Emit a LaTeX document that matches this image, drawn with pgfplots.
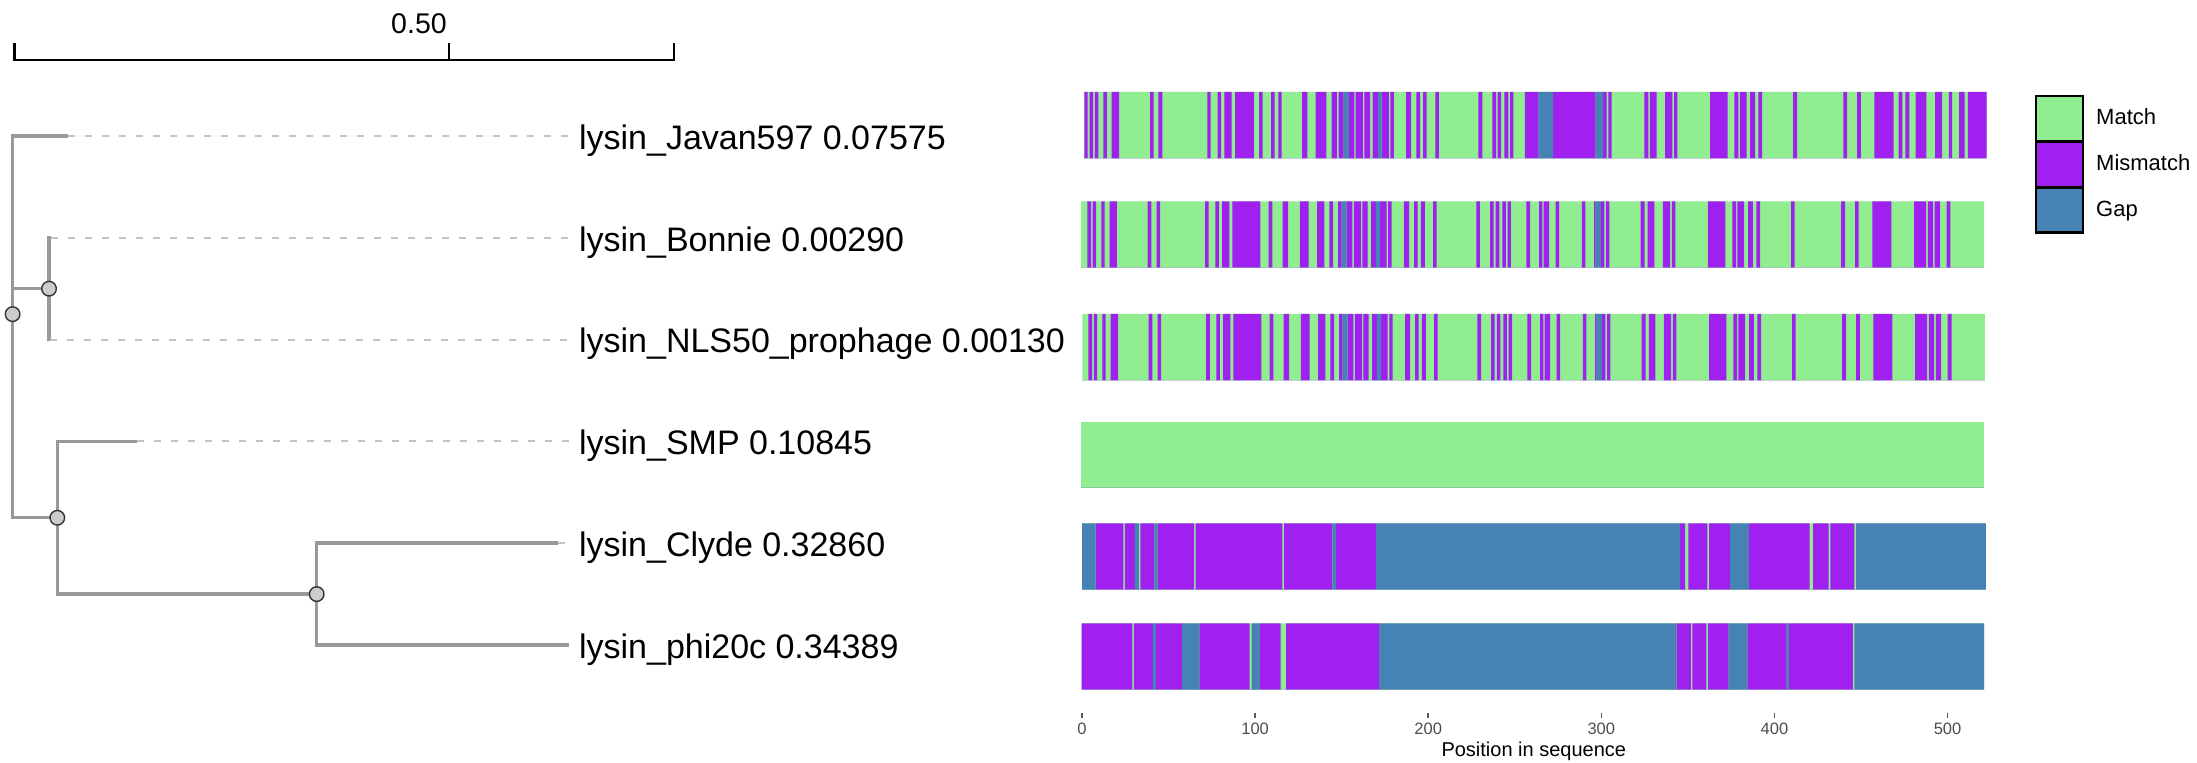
\documentclass[border=0pt]{standalone}
\usepackage{fontspec}
\setmainfont{Liberation Sans}
\usepackage{pgfplots}
\usepackage{pgfplotstable}
\pgfplotsset{compat=1.18}
\definecolor{matchc}{RGB}{144,238,144}
\definecolor{misc}{RGB}{160,32,240}
\definecolor{gapc}{RGB}{70,130,180}
\definecolor{branchc}{RGB}{153,153,153}
\definecolor{dashc}{RGB}{195,195,195}
\definecolor{nodec}{RGB}{204,204,204}

% t: 0 = match, 1 = mismatch, 2 = gap ; each row starts an interval, last row ends the bar
\pgfplotstableread{
x t
1.3 1
3.3 0
4.4 1
6.4 0
7.5 1
9.4 0
12.3 1
14.4 0
17.1 1
21.4 0
39.3 1
41.4 0
44.1 1
46.4 0
72.4 1
74.3 0
78.4 1
80.3 0
82.2 1
86.5 0
88.4 1
99.4 0
102.3 1
104.4 0
109.2 1
111.3 0
113.4 1
115.3 0
127.1 1
130.2 0
135.0 1
141.2 0
144.2 1
147.3 0
148.3 1
151.2 2
154.2 1
157.3 0
158.1 1
162.3 0
163.1 1
166.4 0
167.9 1
171.0 2
173.1 1
177.2 0
178.1 1
180.2 0
187.2 1
190.1 0
193.1 1
195.3 0
197.0 1
199.1 0
204.1 1
206.2 0
229.0 1
231.3 0
237.0 1
239.2 0
240.1 1
242.1 0
244.0 1
246.3 0
247.3 1
249.2 0
255.9 1
263.8 2
272.1 1
296.7 2
301.0 1
303.1 0
304.1 1
306.0 0
324.9 1
327.2 0
328.0 1
332.0 0
336.8 1
341.1 0
342.0 1
343.9 0
362.8 1
373.0 0
376.9 1
379.2 0
380.1 1
384.0 0
385.9 1
388.8 0
390.7 1
392.9 0
410.8 1
413.1 0
439.8 1
442.0 0
447.7 1
450.0 0
457.7 1
468.9 0
471.8 1
473.9 0
475.7 1
478.0 0
481.6 1
487.8 0
492.8 1
496.8 0
500.7 1
502.6 0
506.7 1
509.9 0
511.7 1
522.6 0
}\javan

\pgfplotstableread{
x t
-0.6 0
3.1 1
5.2 0
6.2 1
8.1 0
11.2 1
13.1 0
16.0 1
20.2 0
37.9 1
40.1 0
43.1 1
45.1 0
71.1 1
73.2 0
77.0 1
79.1 0
80.9 1
85.1 0
86.8 1
103.0 0
107.8 1
110.0 0
115.9 1
119.0 0
125.9 1
130.9 0
135.8 1
140.0 0
142.9 1
145.0 0
147.9 1
150.0 2
152.9 1
156.2 0
157.0 1
161.2 0
161.9 1
165.0 0
167.0 1
169.8 2
172.0 1
176.0 0
176.9 1
178.9 0
186.0 1
188.9 0
191.8 1
193.9 0
195.8 1
198.0 0
202.8 1
204.9 0
227.8 1
229.9 0
235.7 1
237.8 0
239.0 1
241.1 0
242.8 1
244.9 0
245.9 1
247.8 0
256.7 1
258.8 0
264.0 1
265.9 0
266.7 1
269.8 0
273.6 1
275.6 0
288.7 1
290.8 0
295.8 1
296.7 2
299.8 1
301.7 0
302.7 1
304.6 0
322.7 1
325.0 0
326.8 1
330.6 0
335.6 1
339.7 0
340.8 1
342.8 0
361.6 1
371.6 0
375.7 1
377.8 0
378.6 1
382.5 0
384.8 1
387.5 0
389.6 1
391.7 0
409.6 1
411.7 0
438.5 1
440.8 0
446.6 1
448.7 0
456.6 1
467.6 0
480.7 1
487.6 0
488.6 1
491.6 0
492.6 1
495.7 0
499.5 1
501.7 0
521.1 0
}\bonnie

\pgfplotstableread{
x t
0.2 0
3.7 1
5.8 0
6.8 1
8.7 0
11.8 1
13.7 0
16.6 1
20.8 0
38.5 1
40.7 0
43.7 1
45.7 0
71.7 1
73.8 0
77.6 1
79.7 0
81.5 1
85.7 0
87.4 1
103.6 0
108.4 1
110.6 0
116.5 1
119.6 0
126.5 1
131.5 0
136.4 1
140.6 0
143.5 1
145.6 0
148.5 1
150.6 2
153.5 1
156.8 0
157.6 1
161.8 0
162.5 1
165.6 0
167.6 1
170.4 2
172.6 1
176.6 0
177.5 1
179.5 0
186.6 1
189.5 0
192.4 1
194.5 0
196.4 1
198.6 0
203.4 1
205.5 0
228.4 1
230.5 0
236.3 1
238.4 0
239.6 1
241.7 0
243.4 1
245.5 0
246.5 1
248.4 0
257.3 1
259.4 0
264.6 1
266.5 0
267.3 1
270.4 0
274.2 1
276.2 0
289.3 1
291.4 0
296.4 1
297.3 2
300.4 1
302.3 0
303.3 1
305.2 0
323.3 1
325.6 0
327.4 1
331.2 0
336.2 1
340.3 0
341.4 1
343.4 0
362.2 1
372.2 0
376.3 1
378.4 0
379.2 1
383.1 0
385.4 1
388.1 0
390.2 1
392.3 0
410.2 1
412.3 0
439.1 1
441.4 0
447.2 1
449.3 0
457.2 1
468.2 0
481.3 1
488.2 0
489.2 1
492.2 0
493.2 1
496.3 0
500.1 1
502.3 0
521.5 0
}\nls

\pgfplotstableread{
x t
-0.6 0
521.0 0
}\smp

\pgfplotstableread{
x t
0.0 2
7.9 1
23.9 0
24.8 1
30.6 2
32.9 0
33.7 1
41.8 2
43.7 1
64.7 0
65.7 1
115.7 0
116.7 1
144.6 2
146.7 1
169.7 2
345.5 1
348.4 0
350.3 1
361.3 0
362.3 1
374.4 2
385.3 1
420.4 0
422.3 1
431.3 0
432.3 1
446.2 0
447.2 2
522.1 2
}\clyde

\pgfplotstableread{
x t
-0.2 1
29.1 0
30.0 1
41.0 2
42.7 1
57.8 2
67.8 1
96.9 0
98.0 2
102.8 1
114.8 0
117.9 1
171.6 2
343.5 1
351.8 0
352.6 1
360.7 0
361.7 1
373.6 2
384.4 1
407.1 2
408.3 1
445.3 0
446.2 2
521.1 2
}\phi

\pgfplotsset{
  rowaxis/.style={scale only axis, width=451.8pt, height=33.15pt,
    xmin=0, xmax=522, ymin=0, ymax=1, hide axis, anchor=south west, clip=false},
  seg/.style={ybar interval, draw=none, forget plot},
}

\newcommand{\alnrow}[1]{%
  \addplot[seg, fill=matchc] table[x=x, y expr=1] {#1};
  \addplot[seg, fill=misc] table[x=x, y expr={\thisrow{t}==1}] {#1};
  \addplot[seg, fill=gapc] table[x=x, y expr={\thisrow{t}==2}] {#1};
}

\begin{document}
\begin{tikzpicture}
\path[use as bounding box] (0,0) rectangle (1098.5pt,381.5pt);

% ---------------- tree ----------------
\begin{axis}[at={(6.3pt,8.1pt)}, anchor=south west, scale only axis,
  width=366.5pt, height=356.3pt, xmin=0, xmax=1, ymin=0, ymax=7,
  y dir=reverse, hide axis, clip=false]
% scale bar
\addplot[black, line width=1.35pt, line join=miter] coordinates {(0.0029,0.0864) (0.0029,0.2534) (0.9023,0.2534) (0.9023,0.0864)};
\addplot[black, line width=1.35pt] coordinates {(0.5953,0.0864) (0.5953,0.2534)};
\node[anchor=base, inner sep=0pt, font=\fontsize{14.25}{16}\selectfont] at (axis cs:0.5544,-0.0088) {0.50};
% dashed alignment lines
\addplot[dashc, line width=1pt, dash pattern=on 3.65pt off 4.85pt] coordinates {(0.07575,1) (0.7588,1)};
\addplot[dashc, line width=1pt, dash pattern=on 3.65pt off 4.85pt] coordinates {(0.0526,2) (0.7588,2)};
\addplot[dashc, line width=1pt, dash pattern=on 3.65pt off 4.85pt] coordinates {(0.0510,3) (0.7588,3)};
\addplot[dashc, line width=1pt, dash pattern=on 3.65pt off 4.85pt] coordinates {(0.16945,4) (0.7588,4)};
\addplot[dashc, line width=1pt, dash pattern=on 3.65pt off 4.85pt] coordinates {(0.7435,5) (0.7588,5)};
% branches
\addplot[branchc, line width=1.7pt, line join=miter] coordinates {(0.07575,1) (0,1) (0,4.75) (0.061,4.75)};
\addplot[branchc, line width=1.7pt] coordinates {(0,2.5) (0.0497,2.5)};
\addplot[branchc, line width=1.7pt, line join=miter] coordinates {(0.0526,2) (0.0497,2) (0.0497,3) (0.0510,3)};
\addplot[branchc, line width=1.7pt, line join=miter] coordinates {(0.16945,4) (0.061,4) (0.061,5.5) (0.4149,5.5)};
\addplot[branchc, line width=1.7pt, line join=miter] coordinates {(0.7435,5) (0.4149,5) (0.4149,6) (0.7588,6)};
% internal nodes
\addplot[only marks, mark=*, mark size=3.65pt, mark options={fill=nodec, draw=black!80, line width=0.7pt}]
  coordinates {(0,2.75) (0.0497,2.5) (0.061,4.75) (0.4149,5.5)};
% tip labels
\begin{scope}[every node/.style={anchor=base west, inner sep=0pt, font=\fontsize{17}{20}\selectfont}]
\node at (axis cs:0.7723,1.13) {lysin\_Javan597 0.07575};
\node at (axis cs:0.7723,2.13) {lysin\_Bonnie 0.00290};
\node at (axis cs:0.7723,3.13) {lysin\_NLS50\_prophage 0.00130};
\node at (axis cs:0.7723,4.13) {lysin\_SMP 0.10845};
\node at (axis cs:0.7723,5.13) {lysin\_Clyde 0.32860};
\node at (axis cs:0.7723,6.13) {lysin\_phi20c 0.34389};
\end{scope}
\end{axis}

% ---------------- alignment rows ----------------
\begin{axis}[rowaxis, at={(541pt,302.35pt)},
  legend style={at={(1.0553,0.9457)}, anchor=north west, draw=none, fill=none,
    inner sep=0pt, outer sep=0pt, row sep=0pt, column sep=6.5pt,
    font=\fontsize{11}{13}\selectfont, nodes={inner sep=0pt, text=black}},
  legend cell align=left,
  legend image code/.code={%
    \path (0pt,-11.25pt) rectangle (23.4pt,11.25pt);
    \begin{pgfinterruptboundingbox}
    \draw[#1, draw=black, line width=1.2pt] (0pt,-11.25pt) rectangle (23.4pt,11.25pt);
    \end{pgfinterruptboundingbox}}]
\alnrow{\javan}
\addlegendimage{fill=matchc}
\addlegendentry{Match}
\addlegendimage{fill=misc}
\addlegendentry{Mismatch}
\addlegendimage{fill=gapc}
\addlegendentry{Gap}
\end{axis}

\begin{axis}[rowaxis, at={(541pt,247.7pt)}]
\alnrow{\bonnie}
\end{axis}
\begin{axis}[rowaxis, at={(541pt,191.35pt)}]
\alnrow{\nls}
\end{axis}
\begin{axis}[rowaxis, at={(541pt,137.5pt)}]
\alnrow{\smp}
\end{axis}
\begin{axis}[rowaxis, at={(541pt,86.7pt)}]
\alnrow{\clyde}
\end{axis}
\begin{axis}[rowaxis, at={(541pt,36.7pt)}]
\alnrow{\phi}
\end{axis}

% ---------------- position axis ----------------
\begin{axis}[at={(541pt,25pt)}, anchor=south west, scale only axis,
  width=451.8pt, height=5pt, xmin=0, xmax=522, ymin=0, ymax=1,
  axis y line=none, axis x line*=bottom, x axis line style={draw=none},
  xtick={0,100,200,300,400,500}, ytick=\empty,
  tick align=outside, major tick length=2.5pt,
  xtick style={draw=black!65, line width=0.75pt},
  xticklabel style={font=\fontsize{8.25}{9}\selectfont, text=black!70, anchor=north, inner sep=0pt, yshift=-2.2pt},
  /pgf/number format/assume math mode=true,
  xlabel={Position in sequence},
  xlabel style={font=\fontsize{10}{12}\selectfont, at={(axis description cs:0.5,-4.4)}, anchor=base, inner sep=0pt}]
\addplot[draw=none] coordinates {(0,0) (522,0)};
\end{axis}
\end{tikzpicture}
\end{document}
